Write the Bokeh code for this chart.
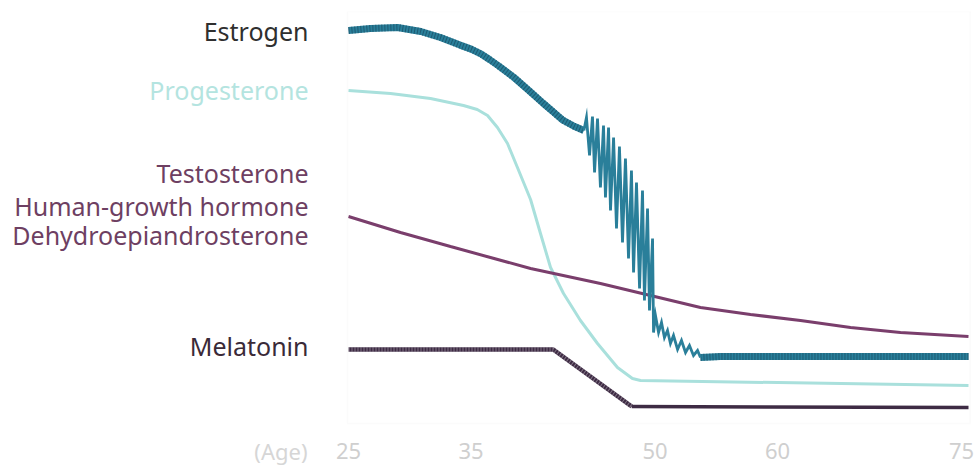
from bokeh.plotting import figure
from bokeh.models import Range1d, BoxAnnotation, ColumnDataSource
from bokeh.layouts import row
from bokeh.core.properties import value
from bokeh.embed import file_html
from bokeh.resources import INLINE

# ---------------- data (age vs relative level) ----------------
age_ticks = [25, 35, 50, 60, 75]
age_tick_labels = ["25", "35", "50", "60", "75"]

estrogen_smooth_age = [25.0, 26.8, 29.0, 30.9, 32.5, 34.1, 35.0, 35.8, 36.5, 37.2, 38.5, 39.7, 40.9, 41.7, 42.5, 43.4, 44.2]
estrogen_smooth_lvl = [98.25, 98.75, 99.0, 98.0, 96.5, 94.6, 93.6, 92.4, 91.0, 89.5, 86.5, 83.3, 80.0, 77.9, 75.8, 74.3, 73.25]

estrogen_surge_age = [44.2, 44.41, 44.66, 44.90, 45.07, 45.31, 45.55, 45.80, 45.96, 46.21, 46.37,
                      46.62, 46.86, 47.10, 47.35, 47.59, 47.84, 48.08, 48.25, 48.49, 48.74,
                      48.98, 49.14, 49.39, 49.55, 49.80, 49.88,
                      50.04, 50.29, 50.53, 50.77, 51.02, 51.26, 51.51, 51.84, 52.16, 52.49,
                      52.81, 53.14, 53.47, 53.71]
estrogen_surge_lvl = [73.25, 76.5, 67.0, 76.75, 62.75, 76.25, 59.0, 74.5, 56.5, 74.0, 53.25,
                      71.5, 48.75, 69.25, 45.25, 66.25, 41.25, 63.25, 37.75, 60.25, 33.75,
                      58.25, 30.75, 53.75, 28.25, 46.25, 22.75,
                      27.0, 22.75, 25.25, 21.5, 23.25, 20.0, 22.0, 18.5, 20.75, 17.75,
                      19.5, 17.0, 18.25, 16.5]

estrogen_late_age = [53.71, 55.34, 75.57]
estrogen_late_lvl = [16.5, 16.75, 16.75]

progesterone_age = [25.0, 28.43, 31.69, 34.38, 35.5, 36.34, 37.15, 37.97, 38.78, 39.85, 40.66, 41.48,
                    42.54, 43.92, 45.31, 46.94, 48.16, 48.82, 75.57]
progesterone_lvl = [83.25, 82.5, 81.25, 79.5, 78.5, 77.0, 74.0, 70.0, 64.0, 56.0, 47.5, 39.0,
                    32.5, 25.75, 20.0, 14.0, 11.25, 10.75, 9.5]

dhea_age = [25.0, 29.24, 33.32, 36.58, 39.85, 45.55, 49.63, 53.71, 57.79, 61.87, 65.95, 70.02, 75.57]
dhea_lvl = [51.75, 47.75, 44.25, 41.5, 38.75, 35.0, 32.0, 29.0, 27.25, 25.75, 24.0, 22.75, 21.75]

melatonin_early_age = [25.0, 41.7, 48.1]
melatonin_early_lvl = [18.5, 18.5, 4.25]
melatonin_late_age = [48.1, 75.57]
melatonin_late_lvl = [4.25, 4.0]

labels = ["Estrogen", "Progesterone", "Testosterone", "Human-growth hormone",
          "Dehydroepiandrosterone", "Melatonin"]
axis_title = "(Age)"

# ---------------- styles ----------------
C_EST = "#2a7f9a"
C_EST_DARK = "#194f66"
C_PROG = "#a9e0dc"
C_DHEA = "#7a3e6c"
C_MEL = "#3e2b44"
C_TICK = "#cfcfcf"
FONT = "Noto Sans"

label_colors = ["#2f2f2f", "#b4e4e0", "#6e3f62", "#6e3f62", "#6e3f62", "#3a2a38"]
label_py = [30, 89, 172, 205, 234, 345]
TICK_PY = 450
TOP = 11
H = 465
W = 978

# ---------------- left label panel (page-pixel coordinates) ----------------
LEFT_W = 327
left = figure(width=LEFT_W, height=H, output_backend="svg", toolbar_location=None,
              x_range=Range1d(0, LEFT_W), y_range=Range1d(H, TOP),
              min_border_left=0, min_border_right=0, min_border_top=TOP,
              min_border_bottom=0, x_axis_type=None, y_axis_type=None)
left.outline_line_color = None
left.xgrid.visible = False
left.ygrid.visible = False

src = ColumnDataSource(dict(x=[308] * len(labels), y=label_py, text=labels, color=label_colors))
left.text(x="x", y="y", text="text", source=src, text_color="color",
          text_font_size="25px", text_align="right", text_baseline="middle",
          text_font=value(FONT))
left.text(x=[307], y=[TICK_PY], text=[axis_title], text_color="#d6d6d6",
          text_font_size="22px", text_align="right", text_baseline="middle",
          text_font=value(FONT))

# ---------------- main chart ----------------
# scale: 12.26 px per year (age 25 at page x 348), 4 px per level unit
PX_PER_YEAR = 12.26
x_start = 25 + (LEFT_W - 348) / PX_PER_YEAR
x_end = 25 + (W - 348) / PX_PER_YEAR
lvl_bottom = (423 - H) / 4.0
p = figure(width=W - LEFT_W, height=H, output_backend="svg", toolbar_location=None,
           x_range=Range1d(x_start, x_end), y_range=Range1d(lvl_bottom, 103),
           min_border_left=0, min_border_right=0, min_border_top=TOP, min_border_bottom=0,
           x_axis_type=None, y_axis_type=None)
p.outline_line_color = None
p.xgrid.visible = False
p.ygrid.visible = False

# faint chart frame (left + bottom edges)
p.add_layout(BoxAnnotation(bottom=0, left=24.92, right=75.7, fill_alpha=0,
                           line_color="#f2f2f2", line_width=1.5))

# tick labels
tick_lvl = (423 - TICK_PY) / 4.0
p.text(x=age_ticks, y=[tick_lvl] * len(age_ticks), text=age_tick_labels,
       text_color=C_TICK, text_font_size="22px", text_align="center",
       text_baseline="middle", text_font=value(FONT))

p.line(progesterone_age, progesterone_lvl, line_color=C_PROG, line_width=3)
p.line(dhea_age, dhea_lvl, line_color=C_DHEA, line_width=3)

p.line(melatonin_late_age, melatonin_late_lvl, line_color=C_MEL, line_width=3.5)
p.line(melatonin_early_age, melatonin_early_lvl, line_color=C_MEL, line_width=4.5)
p.line(melatonin_early_age, melatonin_early_lvl, line_color="#ffffff", line_width=4.5,
       line_dash="1 2", line_alpha=0.35)

for xs, ys in [(estrogen_smooth_age, estrogen_smooth_lvl), (estrogen_late_age, estrogen_late_lvl)]:
    p.line(xs, ys, line_color=C_EST, line_width=7)
    p.line(xs, ys, line_color=C_EST_DARK, line_width=7, line_dash="1 2", line_alpha=0.75)
p.line(estrogen_surge_age, estrogen_surge_lvl, line_color=C_EST, line_width=2.8,
       line_join="miter")

layout = row(left, p, spacing=0)
open("out.html", "w").write(file_html(layout, INLINE))
